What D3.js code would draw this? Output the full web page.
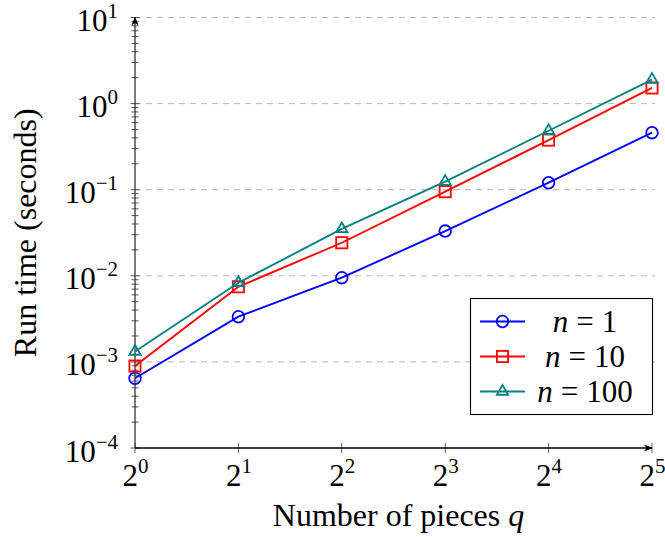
<!DOCTYPE html>
<html><head><meta charset="utf-8">
<script src="https://cdn.jsdelivr.net/npm/d3@7"></script>
<style>
body{margin:0;background:#fff}
svg{display:block}
text{font-family:"Liberation Serif","Times New Roman",serif;fill:#000}
</style></head>
<body><svg id="c" width="665" height="537"></svg>
<script>
// ---- data ----
const qValues = [1, 2, 4, 8, 16, 32];
const xTickExponents = [0, 1, 2, 3, 4, 5];
const yTickExponents = [-4, -3, -2, -1, 0, 1];
const seriesLabels = ["1", "10", "100"];
const seriesColors = ["#0000ff", "#ff0000", "#008080"];
const seriesMarkers = ["circle", "square", "triangle"];
const runN1   = [6.45e-4, 3.35e-3, 9.5e-3, 0.0331, 0.1205, 0.459];
const runN10  = [8.95e-4, 7.46e-3, 0.0242, 0.0948, 0.377, 1.52];
const runN100 = [1.32e-3, 8.3e-3, 0.035, 0.124, 0.484, 1.9];
const seriesValues = [runN1, runN10, runN100];

const svg = d3.select("#c");
const L = 135, R = 652, T = 17.5, B = 448;
const x = d3.scaleLog().base(2).domain([1, 32]).range([L, R]);
const y = d3.scaleLog().domain([1e-4, 1e1]).range([B, T]);

// grid
const majorY = yTickExponents.map(e => Math.pow(10, e));
svg.append("g").selectAll("line").data(majorY.filter(v => v > 1e-4)).join("line")
  .attr("x1", L).attr("x2", R + 3).attr("y1", d => y(d)).attr("y2", d => y(d))
  .attr("stroke", "#b8b8b8").attr("stroke-width", 1).attr("stroke-dasharray", "6,5");

// minor y ticks
const minorY = [];
yTickExponents.slice(0, -1).forEach(e => { for (let k = 2; k <= 9; k++) minorY.push(k * Math.pow(10, e)); });
svg.append("g").selectAll("line").data(minorY).join("line")
  .attr("x1", L - 3.5).attr("x2", L + 3.5).attr("y1", d => y(d)).attr("y2", d => y(d))
  .attr("stroke", "#555").attr("stroke-width", 1);
svg.append("g").selectAll("line").data(majorY).join("line")
  .attr("x1", L - 4.5).attr("x2", L + 4.5).attr("y1", d => y(d)).attr("y2", d => y(d))
  .attr("stroke", "#555").attr("stroke-width", 1);

// x ticks
const majorX = xTickExponents.map(e => Math.pow(2, e));
svg.append("g").selectAll("line").data(majorX).join("line")
  .attr("x1", d => x(d)).attr("x2", d => x(d)).attr("y1", B - 5).attr("y2", B + 5)
  .attr("stroke", "#666").attr("stroke-width", 1);

// axis lines with arrows
const defs = svg.append("defs");
defs.append("marker").attr("id", "arr").attr("viewBox", "0 0 10 10").attr("refX", 9).attr("refY", 5)
  .attr("markerWidth", 9).attr("markerHeight", 9).attr("markerUnits", "userSpaceOnUse").attr("orient", "auto")
  .append("path").attr("d", "M0,1 L10,5 L0,9 L3,5 Z").attr("fill", "#000");
svg.append("line").attr("x1", L).attr("x2", L).attr("y1", B).attr("y2", T)
  .attr("stroke", "#333").attr("stroke-width", 1.3).attr("marker-end", "url(#arr)");
svg.append("line").attr("x1", L).attr("x2", R).attr("y1", B).attr("y2", B)
  .attr("stroke", "#000").attr("stroke-width", 1.3).attr("marker-end", "url(#arr)");

// y tick labels via axis
const yAxis = d3.axisLeft(y).tickValues(majorY).tickSize(0).tickPadding(0).tickFormat(() => "");
const gy = svg.append("g").attr("transform", `translate(${L - 17},0)`).call(yAxis);
gy.select(".domain").remove();
gy.selectAll(".tick text").each(function(d, i) {
  const t = d3.select(this).attr("dy", null).attr("y", 13).attr("text-anchor", "end").attr("font-size", 31);
  const e = yTickExponents[i];
  t.append("tspan").text("10");
  t.append("tspan").attr("font-size", 21).attr("dy", -13).text(e < 0 ? "\u2212" + (-e) : String(e));
});

// x tick labels via axis
const xAxis = d3.axisBottom(x).tickValues(majorX).tickSize(0).tickPadding(0).tickFormat(() => "");
const gx = svg.append("g").attr("transform", `translate(0,${B})`).call(xAxis);
gx.select(".domain").remove();
gx.selectAll(".tick text").each(function(d, i) {
  const t = d3.select(this).attr("dy", null).attr("y", 38).attr("text-anchor", "middle").attr("font-size", 31);
  t.append("tspan").text("2");
  t.append("tspan").attr("font-size", 21).attr("dy", -13).text(String(xTickExponents[i]));
});

// axis labels
svg.append("text").attr("x", (L + R) / 2 + 5).attr("y", 526).attr("text-anchor", "middle").attr("font-size", 32)
  .call(t => { t.append("tspan").text("Number of pieces "); t.append("tspan").attr("font-style", "italic").text("q"); });
svg.append("text").attr("transform", `translate(36,${(T + B) / 2}) rotate(-90)`).attr("text-anchor", "middle")
  .attr("font-size", 32).text("Run time (seconds)");

// marker drawing
function drawMarker(g, type, color, cx, cy) {
  if (type === "circle") {
    g.append("circle").attr("cx", cx).attr("cy", cy).attr("r", 5.8).attr("fill", "none").attr("stroke", color).attr("stroke-width", 1.8);
  } else if (type === "square") {
    g.append("rect").attr("x", cx - 5.6).attr("y", cy - 5.6).attr("width", 11.2).attr("height", 11.2).attr("fill", "none").attr("stroke", color).attr("stroke-width", 1.8);
  } else {
    const s = 6.5;
    g.append("path").attr("d", `M${cx},${cy - s} L${cx + s * 0.87},${cy + s * 0.5} L${cx - s * 0.87},${cy + s * 0.5} Z`)
      .attr("fill", "none").attr("stroke", color).attr("stroke-width", 1.8);
  }
}

// series
const line = d3.line().x((d, i) => x(qValues[i])).y(d => y(d));
seriesValues.forEach((vals, si) => {
  const g = svg.append("g");
  g.append("path").attr("d", line(vals)).attr("fill", "none").attr("stroke", seriesColors[si]).attr("stroke-width", 1.9);
  vals.forEach((v, i) => drawMarker(g, seriesMarkers[si], seriesColors[si], x(qValues[i]), y(v)));
});

// legend
const lg = svg.append("g");
lg.append("rect").attr("x", 470.5).attr("y", 298.5).attr("width", 182).attr("height", 116)
  .attr("fill", "#fff").attr("stroke", "#000").attr("stroke-width", 1.1);
seriesLabels.forEach((lab, si) => {
  const cy = 321.5 + si * 35;
  lg.append("line").attr("x1", 480).attr("x2", 525).attr("y1", cy).attr("y2", cy).attr("stroke", seriesColors[si]).attr("stroke-width", 1.9);
  drawMarker(lg, seriesMarkers[si], seriesColors[si], 502.5, cy);
  const t = lg.append("text").attr("x", 585).attr("y", cy + 10.5).attr("text-anchor", "middle").attr("font-size", 31);
  t.append("tspan").attr("font-style", "italic").text("n");
  t.append("tspan").attr("dx", 8).text("=");
  t.append("tspan").attr("dx", 8).text(lab);
});
</script></body></html>
